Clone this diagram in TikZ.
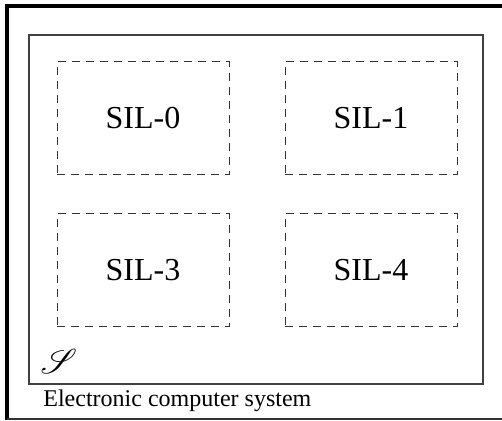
\documentclass[tikz,border=0pt]{standalone}
\usepackage{fontspec}
\setmainfont{Liberation Serif}
\usepackage{mathrsfs}
\usetikzlibrary{positioning}
\def\silhdist{27.5pt}
\def\silvdist{19pt}
\tikzset{
px/.style={x=0.5pt,y=-0.5pt}, % one unit = one pixel of the sketch
frame/.style={line width=2pt},
sys box/.style={draw=black!75,line width=0.65pt,rectangle,minimum width=227pt,minimum height=174.5pt,inner sep=0pt},
sil/.style={draw=black!80,line width=0.5pt,dash pattern=on 4pt off 3pt,rectangle,
  minimum width=86pt,minimum height=56.5pt,inner sep=0pt,font=\fontsize{16}{19}\selectfont},
caption/.style={anchor=base west,inner sep=0pt,font=\fontsize{12}{14}\selectfont},
}
\begin{document}
\begin{tikzpicture}[px,node distance=\silvdist and \silhdist]
\useasboundingbox (0,0) rectangle (502,421);
% outer frame, cut at the right
\draw[frame] (502,6) -- (7,6) -- (7,420);
\draw[line width=0.65pt,black!80] (7,419) -- (502,419);
\node[sys box] (sys) at (256,209.5) {};
\node[sil] (sil0) at (143,118.5) {SIL-0};
\node[sil,right=of sil0] (sil1) {SIL-1};
\node[sil,below=of sil0] (sil3) {SIL-3};
\node[sil,right=of sil3] (sil4) {SIL-4};
\node[inner sep=0pt,font=\fontsize{16}{18}\selectfont] (scr) at (59,361) {$\mathscr{S}$};
\node[caption] (cap) at (43,406) {Electronic computer system};
\end{tikzpicture}
\end{document}
